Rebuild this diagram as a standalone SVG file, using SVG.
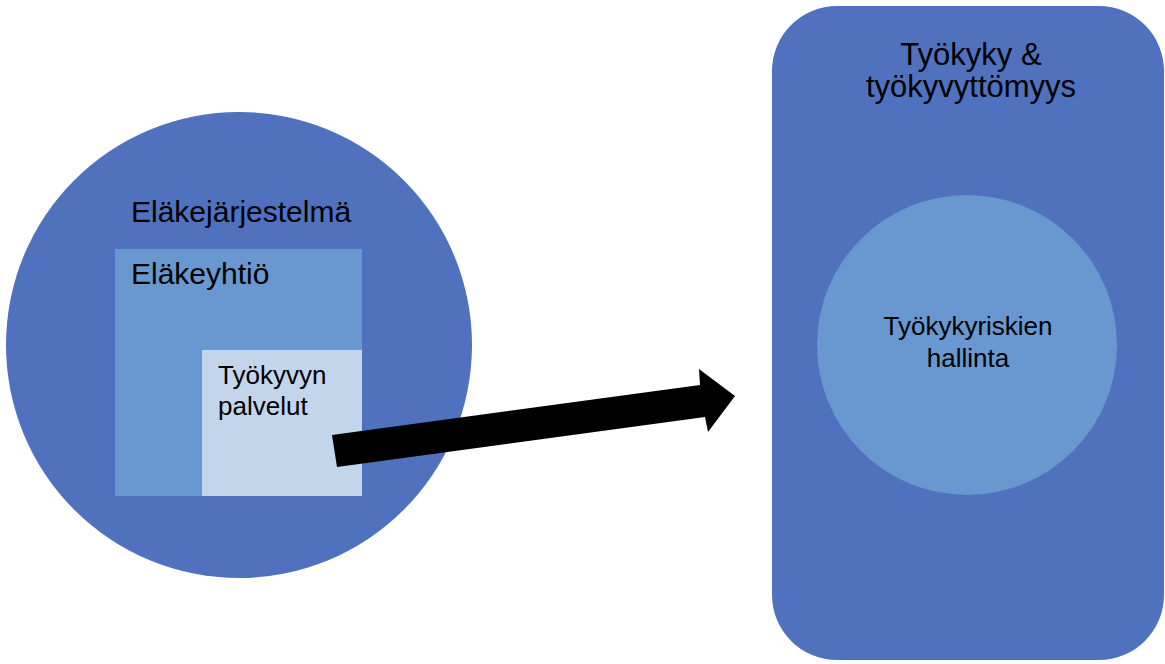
<svg xmlns="http://www.w3.org/2000/svg" width="1165" height="664" viewBox="0 0 1165 664">
<style>
.t{font-family:"Liberation Sans",Arial,sans-serif;fill:#000}
.dark{fill:#4F71BE}
.mid{fill:#6898CF}
.light{fill:#C2D5EB}
</style>
<rect width="1165" height="664" fill="#fff"/>
<g id="elakejarjestelma">
<circle class="dark" cx="239" cy="345" r="233"/>
<text class="t" x="131" y="222" font-size="30">Eläkejärjestelmä</text>
</g>
<g id="elakeyhtio">
<rect class="mid" x="115" y="249" width="247" height="247"/>
<text class="t" x="131" y="284" font-size="30">Eläkeyhtiö</text>
</g>
<g id="tyokyvyn-palvelut">
<rect class="light" x="202" y="350" width="160" height="146"/>
<text class="t" x="218" y="384" font-size="26">Työkyvyn</text>
<text class="t" x="218" y="415" font-size="26">palvelut</text>
</g>
<g id="tyokyky">
<rect class="dark" x="772" y="6" width="392" height="654" rx="65" ry="65"/>
<text class="t" x="971" y="65" font-size="31" text-anchor="middle">Työkyky &amp;</text>
<text class="t" x="971" y="97" font-size="31" text-anchor="middle">työkyvyttömyys</text>
</g>
<g id="tyokykyriskien-hallinta">
<circle class="mid" cx="967" cy="345" r="150"/>
<text class="t" x="968" y="335" font-size="26" text-anchor="middle">Työkykyriskien</text>
<text class="t" x="968" y="367" font-size="26" text-anchor="middle">hallinta</text>
</g>
<g id="connectors">
<polygon points="332,435 700,385 699,369 735,396 708,432 705,417 337,467" fill="#000"/>
</g>
</svg>
